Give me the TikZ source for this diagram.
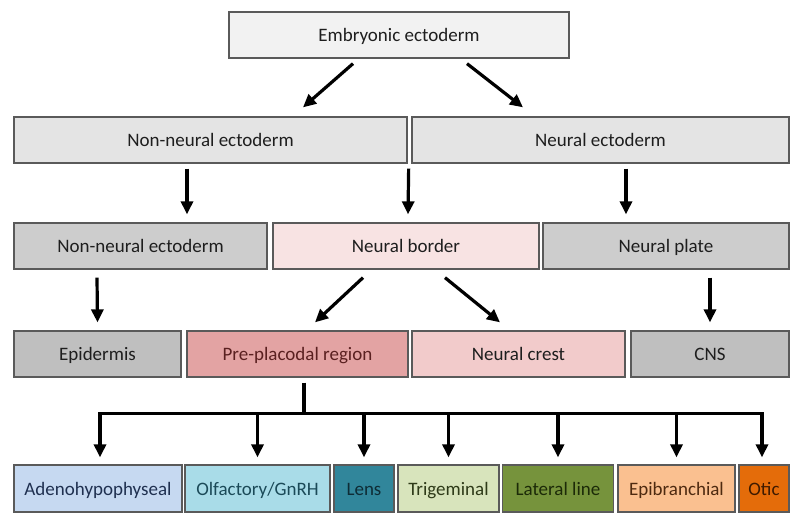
\documentclass[tikz,border=0pt]{standalone}
\usepackage{fontspec}
\setmainfont{Carlito}
\usetikzlibrary{arrows.meta}
\definecolor{bordc}{HTML}{5A5A5A}
\definecolor{txt}{HTML}{1E1E1E}
\definecolor{ftop}{HTML}{F2F2F2}
\definecolor{frowtwo}{HTML}{E4E4E4}
\definecolor{frowthree}{HTML}{CDCDCD}
\definecolor{frowfour}{HTML}{BFBFBF}
\definecolor{fnb}{HTML}{F8E3E3}
\definecolor{fnc}{HTML}{F2CBCB}
\definecolor{fppr}{HTML}{E3A3A3}
\definecolor{tppr}{HTML}{5A2020}
\definecolor{fad}{HTML}{C6D9F1}
\definecolor{tad}{HTML}{1F3050}
\definecolor{fol}{HTML}{A9DCE8}
\definecolor{tol}{HTML}{1B4A58}
\definecolor{fle}{HTML}{31869B}
\definecolor{tle}{HTML}{0E2C36}
\definecolor{ftr}{HTML}{D8E4BC}
\definecolor{ttr}{HTML}{2E3A18}
\definecolor{fll}{HTML}{76933C}
\definecolor{tll}{HTML}{1C2A08}
\definecolor{feb}{HTML}{FAC090}
\definecolor{teb}{HTML}{4E2A10}
\definecolor{fot}{HTML}{E46C0A}
\definecolor{tot}{HTML}{3E1A00}
\tikzset{
  box/.style={draw=bordc, line width=1.3pt, rectangle, inner sep=0pt,
    text height=15.5pt, text depth=2pt,
    font=\fontsize{19}{22}\selectfont, text=txt},
  arr/.style={draw=black, line width=3.2pt,
    -{Triangle[width=12pt,length=13pt]}},
  treeline/.style={draw=black, line width=3.2pt, line join=miter}
}
\begin{document}
\begin{tikzpicture}[x=1pt,y=-1pt]
\useasboundingbox (0,0) rectangle (800,521);
% row 1
\node[box, fill=ftop, minimum width=340pt, minimum height=46pt] (top) at (399,35) {Embryonic ectoderm};
% row 2
\node[box, fill=frowtwo, minimum width=393pt, minimum height=46pt] (nn2) at (210.5,140) {Non-neural ectoderm};
\node[box, fill=frowtwo, minimum width=377pt, minimum height=46pt] (ne2) at (600.5,140) {Neural ectoderm};
% row 3
\node[box, fill=frowthree, minimum width=253pt, minimum height=46pt] (nn3) at (140.5,246) {Non-neural ectoderm};
\node[box, fill=fnb, minimum width=266pt, minimum height=46pt] (nb) at (406,246) {Neural border};
\node[box, fill=frowthree, minimum width=246pt, minimum height=46pt] (np) at (666,246) {Neural plate};
% row 4
\node[box, fill=frowfour, minimum width=167pt, minimum height=46pt] (epi) at (97.5,354) {Epidermis};
\node[box, fill=fppr, text=tppr, minimum width=221pt, minimum height=46pt] (ppr) at (297.5,354) {Pre-placodal region};
\node[box, fill=fnc, minimum width=213pt, minimum height=46pt] (nc) at (518.5,354) {Neural crest};
\node[box, fill=frowfour, minimum width=158pt, minimum height=46pt] (cns) at (710,354) {CNS};
% row 5
\node[box, fill=fad, text=tad, minimum width=168pt, minimum height=47pt] (ad) at (98,488.5) {Adenohypophyseal};
\node[box, fill=fol, text=tol, minimum width=145pt, minimum height=47pt] (ol) at (257.5,488.5) {Olfactory/GnRH};
\node[box, fill=fle, text=tle, minimum width=60pt, minimum height=47pt] (le) at (364,488.5) {Lens};
\node[box, fill=ftr, text=ttr, minimum width=101pt, minimum height=47pt] (tr) at (448.5,488.5) {Trigeminal};
\node[box, fill=fll, text=tll, minimum width=111pt, minimum height=47pt] (ll) at (558,488.5) {Lateral line};
\node[box, fill=feb, text=teb, minimum width=117pt, minimum height=47pt] (eb) at (676.5,488.5) {Epibranchial};
\node[box, fill=fot, text=tot, minimum width=50pt, minimum height=47pt] (ot) at (764,488.5) {Otic};
% arrows row1 -> row2
\draw[arr] ([xshift=-46pt,yshift=-5pt]top.south) -- ([xshift=92.5pt,yshift=9pt]nn2.north);
\draw[arr] ([xshift=68pt,yshift=-5pt]top.south) -- ([xshift=-77.5pt,yshift=9pt]ne2.north);
% arrows row2 -> row3
\draw[arr] ([xshift=-23.5pt,yshift=-5pt]nn2.south) -- ([xshift=46.5pt,yshift=8pt]nn3.north);
\draw[arr] ([xshift=1pt,yshift=-5pt]nn2.south east) -- ([xshift=2pt,yshift=8pt]nb.north);
\draw[arr] ([xshift=25.5pt,yshift=-5pt]ne2.south) -- ([xshift=-40pt,yshift=8pt]np.north);
% arrows row3 -> row4
\draw[arr] ([xshift=-43.5pt,yshift=-8pt]nn3.south) -- ([yshift=8pt]epi.north);
\draw[arr] ([xshift=-43pt,yshift=-8pt]nb.south) -- ([xshift=17.5pt,yshift=8pt]ppr.north);
\draw[arr] ([xshift=39pt,yshift=-8pt]nb.south) -- ([xshift=-18.5pt,yshift=8pt]nc.north);
\draw[arr] ([xshift=44pt,yshift=-8pt]np.south) -- ([yshift=8pt]cns.north);
% tree
\draw[treeline] ([xshift=6.5pt,yshift=-5pt]ppr.south) -- ++(0,31) coordinate (j);
\draw[arr, line join=miter] (j) -| ([xshift=2pt,yshift=7pt]ad.north);
\draw[arr, line join=miter] (j) -| ([xshift=-2pt,yshift=7pt]ot.north);
\draw[arr] (ol.north |- j) -- ([yshift=7pt]ol.north);
\draw[arr] (le.north |- j) -- ([yshift=7pt]le.north);
\draw[arr] (tr.north |- j) -- ([yshift=7pt]tr.north);
\draw[arr] (ll.north |- j) -- ([yshift=7pt]ll.north);
\draw[arr] (eb.north |- j) -- ([yshift=7pt]eb.north);
\end{tikzpicture}
\end{document}
